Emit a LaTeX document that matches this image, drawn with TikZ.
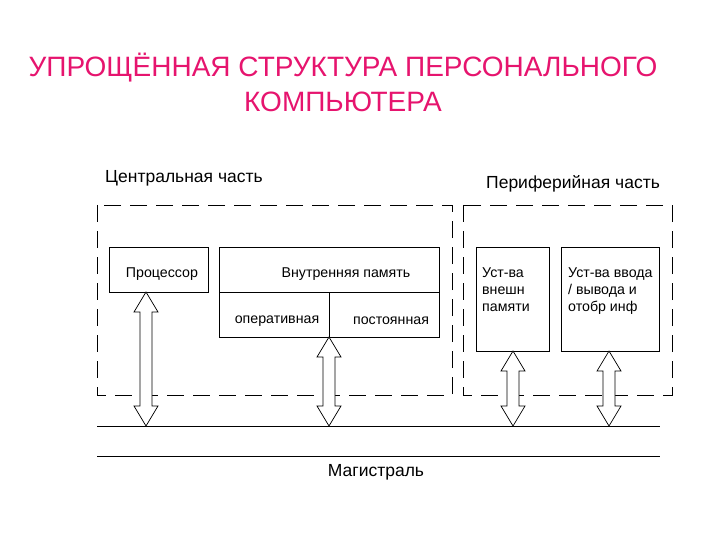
\documentclass[tikz,border=0pt]{standalone}
\usepackage{fontspec}
\setmainfont{Liberation Sans}
\definecolor{ttl}{RGB}{230,20,110}
\begin{document}
\begin{tikzpicture}[x=1pt,y=-1pt,
  box/.style={draw,line width=0.8pt},
  dsh/.style={draw,line width=0.8pt,dash pattern=on 17pt off 9pt},
  lbl/.style={font=\fontsize{14.2}{17}\selectfont,inner sep=0pt},
  bus/.style={line width=0.8pt},
  barrow/.style={draw,line width=0.7pt,fill=white}]
\useasboundingbox (0,0) rectangle (720,540);
\node[text=ttl,font=\fontsize{28}{35}\selectfont,align=center] (title) at (343,82) {УПРОЩЁННАЯ СТРУКТУРА ПЕРСОНАЛЬНОГО\\КОМПЬЮТЕРА};
\node[font=\fontsize{17.5}{20}\selectfont,anchor=west,inner sep=0pt] (lc) at (105,178) {Центральная часть};
\node[font=\fontsize{17.5}{20}\selectfont,anchor=west,inner sep=0pt] (lp) at (486,184) {Периферийная часть};
\draw[dsh] (97,205) rectangle (452,395);
\draw[dsh] (463,205) rectangle (672,395);
\node[box,minimum width=99pt,minimum height=45pt,anchor=north west] (cpu) at (109,247) {};
\node[lbl] at (162,274) {Процессор};
\node[box,minimum width=220pt,minimum height=90pt,anchor=north west] (mem) at (219,247) {};
\draw[line width=0.8pt] (219,292) -- (439,292) (329,292) -- (329,337);
\node[lbl] at (346,274) {Внутренняя память};
\node[lbl] at (277,321) {оперативная};
\node[lbl] at (391,321) {постоянная};
\node[box,minimum width=73pt,minimum height=104pt,anchor=north west] (ext) at (476,247) {};
\node[lbl,anchor=north west,align=left] at (482,268) {Уст-ва\\внешн\\памяти};
\node[box,minimum width=98pt,minimum height=104pt,anchor=north west] (io) at (561,247) {};
\node[lbl,anchor=north west,align=left] at (568,268) {Уст-ва ввода\\/ вывода и\\отобр инф};
\draw[bus] (97,426) coordinate (b1) -- (660,426) coordinate (b2);
\draw[bus] (97,456) coordinate (b3) -- (660,456) coordinate (b4);
\node[font=\fontsize{17.5}{20}\selectfont,inner sep=0pt] (mag) at (376,472) {Магистраль};
\foreach \x/\t/\b in {146/292/426, 329/337/426, 513/351/426, 609/351/426}{
  \draw[barrow] (\x,\t) -- (\x+12,\t+20) -- (\x+6,\t+20) -- (\x+6,\b-20) -- (\x+12,\b-20) -- (\x,\b)
     -- (\x-12,\b-20) -- (\x-6,\b-20) -- (\x-6,\t+20) -- (\x-12,\t+20) -- cycle;
}
\end{tikzpicture}
\end{document}
